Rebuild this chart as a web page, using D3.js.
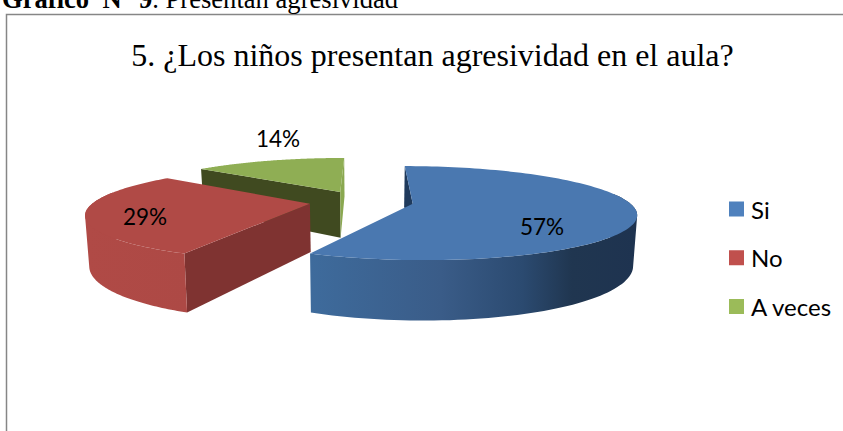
<!DOCTYPE html>
<html>
<head>
<meta charset="utf-8">
<style>html,body{margin:0;padding:0;background:#fff;overflow:hidden}svg{display:block}</style>
<script src="https://cdn.jsdelivr.net/npm/d3@7"></script>
</head>
<body>
<svg id="chart" width="843" height="431"></svg>
<script>
const categories = ["Si", "No", "A veces"];
const percentValues = [57, 29, 14];
const chartTitle = "5. ¿Los niños presentan agresividad en el aula?";
const captionBold = "Gráfico\u00a0 N° 9";
const captionRest = ". Presentan agresividad";

const topColors = ["#4a78b0", "#b04a46", "#8fae54"];
const startFaceColors = ["#1f3a5c", "#7f3331", "#404a20"];
const endFaceColors = ["#1f3a5c", "#7f3331", "#8aa850"];
const wallStops = [
  [[0, "#3e6b9c"], [0.4, "#3a5c88"], [0.65, "#2b4a70"], [0.8, "#203650"], [1, "#1e3350"]],
  [[0, "#b04a46"], [1, "#ad4945"]],
  [[0, "#8aa850"], [1, "#8aa850"]]
];
const legendColors = ["#4f81bd", "#c0504d", "#9bbb59"];
const labelAnchors = [[542, 226], [145, 216], [278, 138]];

// Perspective projection of a tilted exploded pie
const vanishX = 365, horizonY = -21, topPlane = 226, bottomScale = 1.215, bottomConverge = 0.985;
const radius = 219, depthPerUnit = 0.202 / 219;
const explode = 53, originX = -3.7, originZ = 18;

const svg = d3.select("#chart");
const defs = svg.append("defs");

function project(X, Z, bottom) {
  const w = 1 + Z * depthPerUnit;
  const x = vanishX + (X / w) * (bottom ? bottomConverge : 1);
  const y = horizonY + (topPlane / w) * (bottom ? bottomScale : 1);
  return [x, y];
}

const arcs = d3.pie().sort(null).value(d => d)(percentValues);
const line = d3.line();

// Back slices first, so that nearer ones cover them
arcs.slice().reverse().forEach(a => {
  const i = a.index;
  const mid = (a.startAngle + a.endAngle) / 2;
  const ax = originX + explode * Math.sin(mid);
  const az = originZ + explode * Math.cos(mid);
  const rim = t => [ax + radius * Math.sin(t), az + radius * Math.cos(t)];
  const steps = d3.range(0, 121).map(k => a.startAngle + (a.endAngle - a.startAngle) * k / 120);
  const topArc = steps.map(t => project(...rim(t), false));
  const botArc = steps.map(t => project(...rim(t), true));
  const apexTop = project(ax, az, false);
  const apexBot = project(ax, az, true);
  const g = svg.append("g").attr("class", "slice-" + i);

  const gid = "wall" + i;
  const grad = defs.append("linearGradient").attr("id", gid).attr("x1", 0).attr("x2", 1).attr("y1", 0).attr("y2", 0);
  wallStops[i].forEach(s => grad.append("stop").attr("offset", s[0]).attr("stop-color", s[1]));

  const startFace = [topArc[0], apexTop, apexBot, botArc[0]];
  const endFace = [topArc[120], apexTop, apexBot, botArc[120]];
  if (d3.polygonArea(startFace) < 0)
    g.append("path").attr("d", line(startFace) + "Z").attr("fill", startFaceColors[i]);
  if (d3.polygonArea(endFace) > 0)
    g.append("path").attr("d", line(endFace) + "Z").attr("fill", endFaceColors[i]);

  // Wall on the viewer-facing rim: small quads in one path, all wound the same way
  const quads = d3.range(0, 120).filter(k => Math.cos(steps[k]) < 0.25).map(k => {
    const q = [topArc[k], topArc[k + 1], botArc[k + 1], botArc[k]];
    return line(d3.polygonArea(q) < 0 ? q.reverse() : q) + "Z";
  });
  if (quads.length) g.append("path").attr("d", quads.join("")).attr("fill", `url(#${gid})`);

  g.append("path").attr("d", line([apexTop].concat(topArc)) + "Z").attr("fill", topColors[i]);
});

// Frame
svg.append("path").attr("d", "M6.5,431V14.5H843").attr("fill", "none").attr("stroke", "#868686").attr("stroke-width", 1.5);

// Caption (sits against the top edge, as in the reference)
const cap = svg.append("text").attr("x", 2).attr("y", 8).attr("font-family", "Liberation Serif").attr("font-size", 26.6).attr("fill", "#000");
cap.append("tspan").attr("font-weight", "bold").text(captionBold);
cap.append("tspan").text(captionRest);

svg.append("text").attr("x", 432.5).attr("y", 65.5).attr("text-anchor", "middle")
  .attr("font-family", "Liberation Serif").attr("font-size", 32).attr("fill", "#000").text(chartTitle);

svg.selectAll("text.label").data(arcs).join("text").attr("class", "label")
  .attr("x", (d, i) => labelAnchors[i][0]).attr("y", (d, i) => labelAnchors[i][1])
  .attr("text-anchor", "middle").attr("dominant-baseline", "central")
  .attr("font-family", "Lato").attr("font-size", 22.5).attr("fill", "#000")
  .text(d => d.data + "%");

// Legend
const legendY = d3.scalePoint().domain(categories).range([209, 306.5]);
const color = d3.scaleOrdinal().domain(categories).range(legendColors);
const leg = svg.selectAll("g.leg").data(categories).join("g").attr("class", "leg")
  .attr("transform", d => `translate(0,${legendY(d)})`);
leg.append("rect").attr("x", 729).attr("y", -7.5).attr("width", 15).attr("height", 15).attr("fill", d => color(d));
leg.append("text").attr("x", 751).attr("dominant-baseline", "central")
  .attr("font-family", "Lato").attr("font-size", 24).attr("fill", "#000").text(d => d);
</script>
</body>
</html>
